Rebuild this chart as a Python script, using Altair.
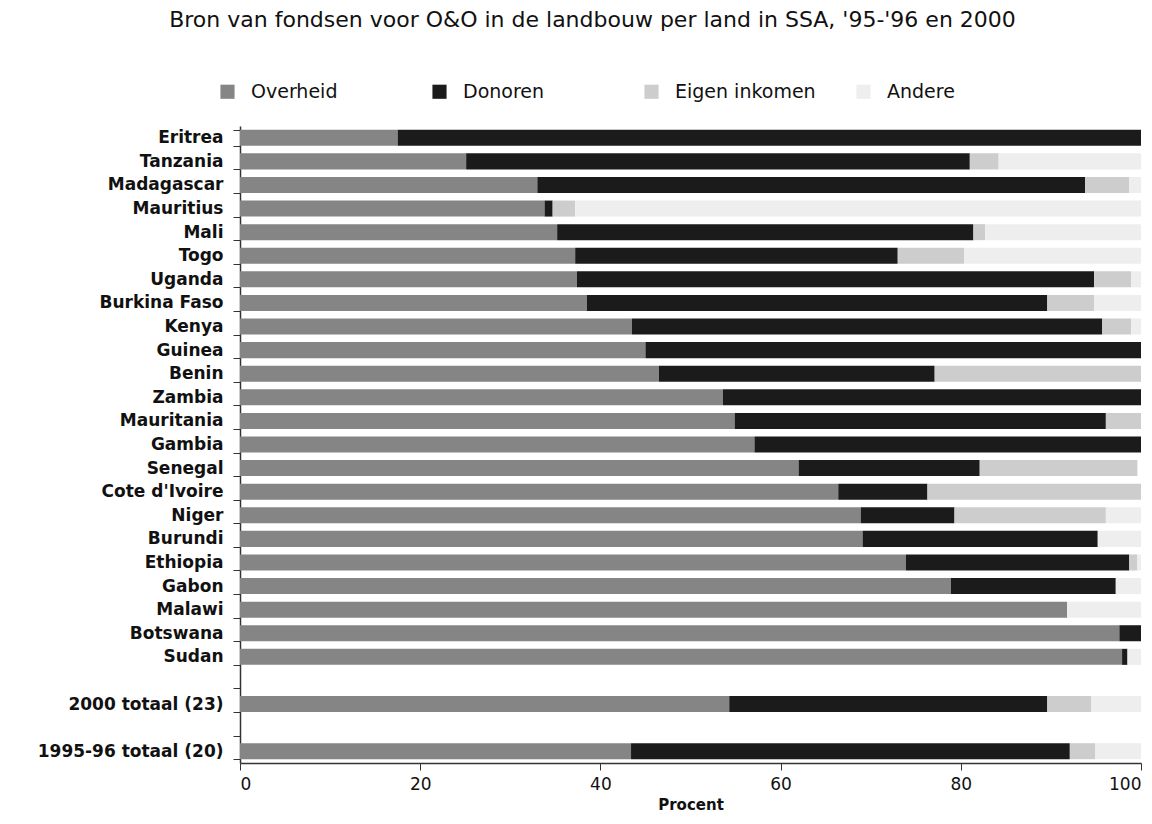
import altair as alt
import pandas as pd

countries = ["Eritrea", "Tanzania", "Madagascar", "Mauritius", "Mali", "Togo", "Uganda",
             "Burkina Faso", "Kenya", "Guinea", "Benin", "Zambia", "Mauritania", "Gambia",
             "Senegal", "Cote d'Ivoire", "Niger", "Burundi", "Ethiopia", "Gabon", "Malawi",
             "Botswana", "Sudan", "2000 totaal (23)", "1995-96 totaal (20)"]

overheid = [17.5, 25.1, 33.0, 33.8, 35.2, 37.2, 37.4, 38.5, 43.5, 45.0, 46.5, 53.6, 54.9, 57.1,
            62.0, 66.4, 68.9, 69.1, 73.9, 78.9, 91.8, 97.6, 97.9, 54.3, 43.4]
donoren = [82.5, 55.9, 60.8, 0.9, 46.2, 35.8, 57.4, 51.1, 52.2, 55.0, 30.6, 46.4, 41.2, 42.9,
           20.1, 9.9, 10.4, 26.1, 24.8, 18.3, 0.0, 2.4, 0.6, 35.3, 48.7]
eigen = [0.0, 3.2, 4.9, 2.5, 1.3, 7.4, 4.1, 5.2, 3.2, 0.0, 22.9, 0.0, 3.9, 0.0,
         17.5, 23.7, 16.8, 0.0, 0.9, 0.0, 0.0, 0.0, 0.0, 4.9, 2.8]
andere = [0.0, 15.8, 1.3, 62.8, 17.3, 19.6, 1.1, 5.2, 1.1, 0.0, 0.0, 0.0, 0.0, 0.0,
          0.0, 0.0, 3.9, 4.8, 0.4, 2.8, 8.2, 0.0, 1.5, 5.5, 5.1]

series = ["Overheid", "Donoren", "Eigen inkomen", "Andere"]
colors = ["#858585", "#1b1b1b", "#cdcdcd", "#eeeeee"]
x_ticks = [0, 20, 40, 60, 80, 100]

y_domain = countries[:23] + [" ", countries[23], "  ", countries[24]]

rows = []
for i, c in enumerate(countries):
    for k, (s, vals) in enumerate(zip(series, [overheid, donoren, eigen, andere])):
        rows.append({"land": c, "bron": s, "waarde": vals[i], "volgorde": k})
df = pd.DataFrame(rows)

chart = alt.Chart(df).mark_bar(strokeWidth=0).encode(
    y=alt.Y("land:N", sort=y_domain,
            scale=alt.Scale(domain=y_domain, paddingInner=0.32, paddingOuter=0.16),
            axis=alt.Axis(title=None, labelFont="DejaVu Sans", labelFontWeight="bold",
                          labelFontSize=17, labelColor="#111111", tickSize=7,
                          labelPadding=10, labelLimit=400, tickColor="#333333",
                          domainColor="#333333", tickBand="extent", domainWidth=1.5)),
    x=alt.X("waarde:Q", stack="zero",
            scale=alt.Scale(domain=[0, 100], nice=False),
            axis=alt.Axis(title="Procent", values=x_ticks, grid=False,
                          labelFont="DejaVu Sans", labelFontSize=17, labelColor="#111111",
                          titleFont="DejaVu Sans", titleFontSize=15, titleFontWeight="bold",
                          titleColor="#111111", tickSize=7, labelPadding=6,
                          titlePadding=5, tickColor="#333333", domainColor="#333333",
                          domainWidth=1.5)),
    color=alt.Color("bron:N", sort=series,
                    scale=alt.Scale(domain=series, range=colors),
                    legend=alt.Legend(title=None, orient="none", legendX=-22, legendY=-44,
                                      direction="horizontal", columns=4, gridAlign="all",
                                      symbolType="square", symbolSize=200,
                                      symbolStrokeWidth=0, columnPadding=38,
                                      labelFont="DejaVu Sans", labelFontSize=19,
                                      labelColor="#111111", labelOffset=14)),
    order=alt.Order("volgorde:Q"),
).properties(
    width=901, height=637,
    title=alt.TitleParams(
        "Bron van fondsen voor O&O in de landbouw per land in SSA, '95-'96 en 2000",
        font="DejaVu Sans", fontSize=22, fontWeight="normal", color="#111111",
        anchor="middle", frame="group", dx=-98, offset=50),
    autosize=alt.AutoSizeParams(type="none"),
    padding={"left": 232, "top": 118, "right": 3, "bottom": 52},
).configure_view(stroke=None)

chart.save("out.html", embed_options={"renderer": "svg", "actions": False})
